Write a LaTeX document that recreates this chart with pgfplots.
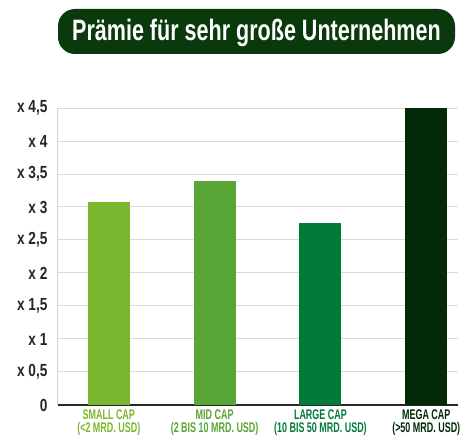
\documentclass[border=0pt]{standalone}
\usepackage{pgfplots}
\pgfplotsset{compat=1.18}
\usepackage{fontspec}
\setmainfont{Liberation Sans}
\newfontfamily\condf{Liberation Sans}[FakeStretch=0.73]
\newfontfamily\condy{Liberation Sans}[FakeStretch=0.78]
\newfontfamily\condx{Liberation Sans}[FakeStretch=0.64]
\definecolor{cA}{HTML}{7AB72E}
\definecolor{cB}{HTML}{59A535}
\definecolor{cC}{HTML}{047A3A}
\definecolor{cD}{HTML}{022A08}
\definecolor{titlebg}{HTML}{0A3A0C}
\definecolor{gridc}{HTML}{D9D9D9}
\definecolor{yax}{HTML}{C8D8D4}
\begin{document}
\begin{tikzpicture}
\useasboundingbox (0pt,0pt) rectangle (461pt,439pt);
\fill[titlebg, rounded corners=17pt] (58pt,385pt) rectangle (455pt,430pt);
\node[text=white, font=\condf\bfseries\fontsize{29.5}{32}\selectfont] at (256.5pt,406.5pt) {Prämie für sehr große Unternehmen};
\begin{axis}[
  at={(58pt,34pt)}, anchor=south west,
  scale only axis, width=400pt, height=297pt,
  xmin=-0.48, xmax=3.3, ymin=0, ymax=4.5,
  axis x line*=bottom, axis y line*=left,
  x axis line style={-, draw=black!85, line width=1.6pt},
  y axis line style={-, draw=yax, line width=1pt},
  ytick={0,0.5,...,4.5},
  yticklabels={0,{x 0{,}5},x 1,{x 1{,}5},x 2,{x 2{,}5},x 3,{x 3{,}5},x 4,{x 4{,}5}},
  yticklabel style={font=\condy\bfseries\fontsize{17.5}{19}\selectfont, text=black!85, xshift=-7pt},
  ymajorgrids, grid style={gridc, line width=1pt},
  major tick length=0pt,
  xtick={0,1,2,3},
  xticklabels={
    {\textcolor{cA}{SMALL CAP}\\\textcolor{cA}{(<2 MRD. USD)}},
    {\textcolor{cB}{MID CAP}\\\textcolor{cB}{(2 BIS 10 MRD. USD)}},
    {\textcolor{cC}{LARGE CAP}\\\textcolor{cC}{(10 BIS 50 MRD. USD)}},
    {\textcolor{cD}{MEGA CAP}\\\textcolor{cD}{(>50 MRD. USD)}}},
  xticklabel style={font=\condx\bfseries\fontsize{14}{13.5}\selectfont, align=center, yshift=-1pt},
  clip=false,
]
\addplot[ybar, bar width=42pt, fill=cA, draw=none, bar shift=0pt] coordinates {(0,3.08)};
\addplot[ybar, bar width=42pt, fill=cB, draw=none, bar shift=0pt] coordinates {(1,3.39)};
\addplot[ybar, bar width=42pt, fill=cC, draw=none, bar shift=0pt] coordinates {(2,2.76)};
\addplot[ybar, bar width=42pt, fill=cD, draw=none, bar shift=0pt] coordinates {(3,4.5)};
\end{axis}
\end{tikzpicture}
\end{document}
